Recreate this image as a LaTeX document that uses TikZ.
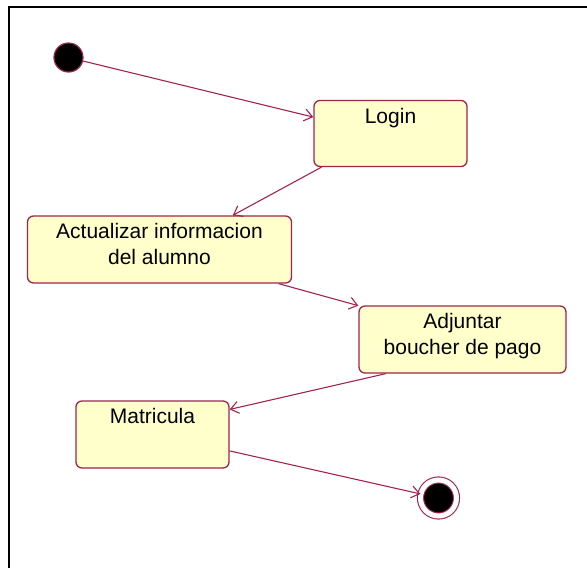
\documentclass[tikz,border=0pt]{standalone}
\usepackage{fontspec}
\setmainfont{Liberation Sans}
\definecolor{rosewood}{HTML}{A3234F}
\definecolor{paleyellow}{HTML}{FFFFCC}
\usetikzlibrary{arrows.meta}

\begin{document}
\begin{tikzpicture}[x=1pt,y=-1pt,
  state/.style={draw=rosewood,fill=paleyellow,rounded corners=6pt,line width=1.3pt,inner sep=0pt},
  caption/.style={anchor=north,yshift=-8pt,inner sep=0pt,align=center,font=\fontsize{21}{26}\selectfont},
  flow/.style={rosewood,line width=1.1pt,-{Straight Barb[length=8pt,width=12pt]}},
  startdot/.style={circle,draw=rosewood,fill=black,line width=1.2pt,minimum size=29pt,inner sep=0pt},
  enddot/.style={circle,draw=rosewood,fill=black,line width=1.1pt,double=white,double distance=5pt,minimum size=36pt,inner sep=0pt}]
  \useasboundingbox (0,0) rectangle (587,568);
  % frame
  \draw[black,line width=2pt] (9,568) -- (9,7) -- (587,7);
  % states
  \node[startdot] (start) at (68.5,57.5) {};
  \node[state,minimum width=153pt,minimum height=66pt,label={[caption]north:Login}] (login) at (390.5,133.5) {};
  \node[state,minimum width=264pt,minimum height=67pt,label={[caption]north:{Actualizar informacion\\del alumno}}] (actualizar) at (159.5,249.5) {};
  \node[state,minimum width=207pt,minimum height=67pt,label={[caption]north:{Adjuntar\\boucher de pago}}] (adjuntar) at (462.5,339.5) {};
  \node[state,minimum width=153pt,minimum height=67pt,label={[caption]north:Matricula}] (matricula) at (152.5,434.5) {};
  \node[enddot] (final) at (438.5,498) {};
  % transitions
  \draw[flow] (start) -- (login.168);
  \draw[flow] (login.206) -- (actualizar.25);
  \draw[flow] (actualizar.-16) -- (adjuntar.162);
  \draw[flow] (adjuntar.204) -- (matricula.18);
  \draw[flow] (matricula.-12) -- (final);
\end{tikzpicture}
\end{document}
